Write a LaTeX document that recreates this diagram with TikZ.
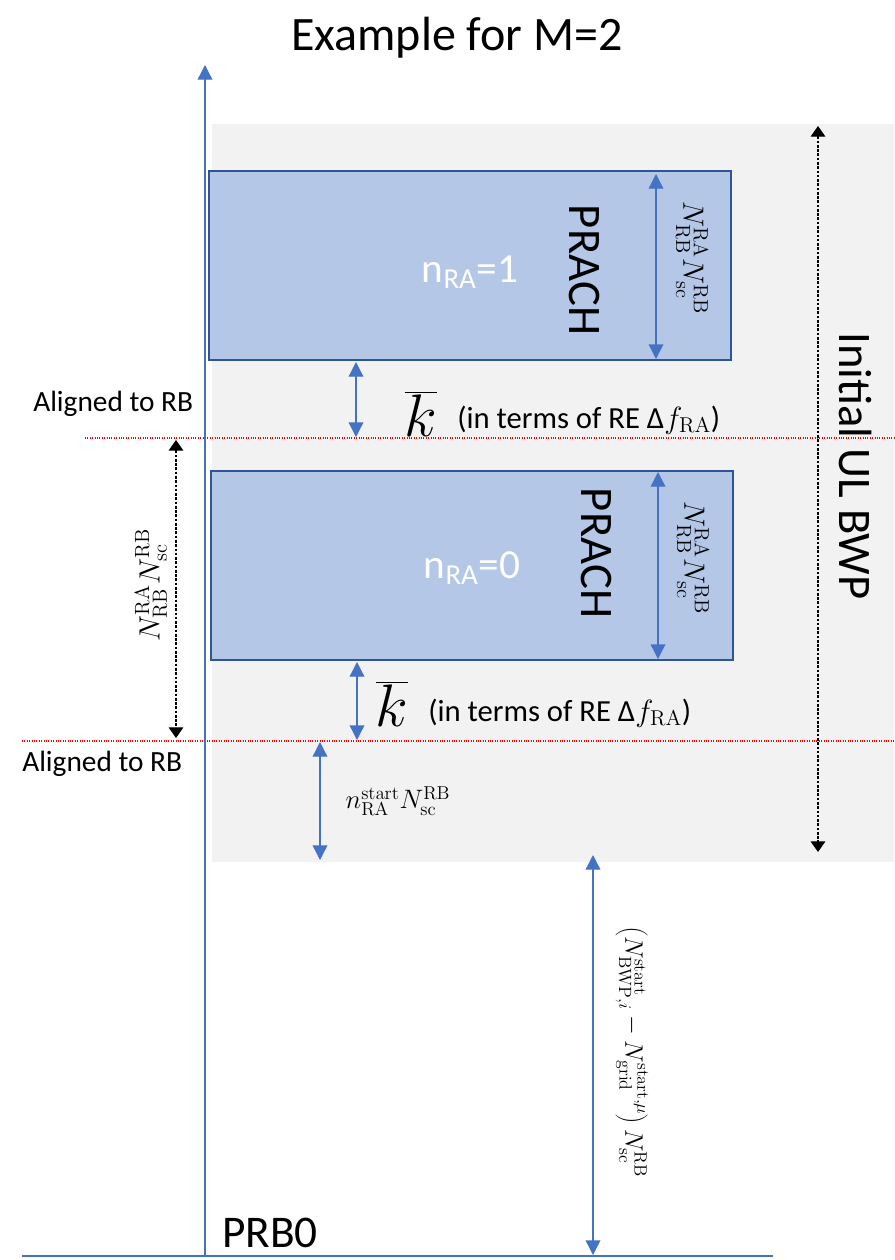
\RequirePackage{fix-cm}
\documentclass[tikz,border=0pt]{standalone}
\usepackage[no-math]{fontspec}
\setmainfont{Carlito}
\usetikzlibrary{arrows.meta}

\definecolor{axisblue}{HTML}{4472C4}
\definecolor{prachfill}{HTML}{B4C7E7}
\definecolor{prachedge}{HTML}{2F5597}
\definecolor{bwpgray}{HTML}{F2F2F2}

\begin{document}
\begin{tikzpicture}[
  x=0.75pt, y=-0.75pt,
  prach/.style={draw=prachedge, line width=2pt, fill=prachfill, inner sep=0pt,
                minimum width=391.5pt, minimum height=141.75pt},
  barr/.style={{Triangle[width=11pt,length=11pt]}-{Triangle[width=11pt,length=11pt]},
               axisblue, line width=1pt},
  darr/.style={{Triangle[width=11pt,length=8pt]}-{Triangle[width=11pt,length=8pt]},
               dash pattern=on 2pt off 1.2pt, line width=0.9pt},
  rbline/.style={red, densely dotted, line width=0.8pt},
  big/.style={font=\fontsize{35}{40}\selectfont},
  ra/.style={white, font=\fontsize{31}{36}\selectfont},
  note/.style={font=\fontsize{22}{26}\selectfont},
  math/.style={font=\fontsize{22}{26}\selectfont, inner sep=0pt},
  kbar/.style={font=\fontsize{45}{48}\selectfont, inner sep=0pt}
]
\useasboundingbox (0,0) rectangle (894,1260);

% initial UL BWP region
\fill[bwpgray] (212,124) rectangle (894,862);

% RB grid alignment lines
\draw[rbline] (85,438) -- (894,438);
\draw[rbline] (22,741) -- (894,741);

% frequency axis and PRB0 reference
\coordinate (ax0) at (205,1256);
\coordinate (ax1) at (205,65);
\coordinate (bl0) at (22,1256);
\coordinate (bl1) at (773,1256);
\draw[axisblue, line width=1pt] (bl0) -- (bl1);
\draw[axisblue, line width=1pt, -{Triangle[width=11pt,length=11pt]}] (ax0) -- (ax1);

\node[font=\fontsize{36}{40}\selectfont] (title) at (457,38) {Example for M=2};
\node[font=\fontsize{34}{38}\selectfont, anchor=base west, inner sep=0pt] (prb0) at (222,1247) {PRB0};

% PRACH occasions
\node[prach] (p1) at (470,265.5) {};
\node[prach] (p0) at (472,565.5) {};
\node[ra] (nra1) at (470,272) {n\textsubscript{RA}=1};
\node[ra] (nra0) at (472,568) {n\textsubscript{RA}=0};
\node[big, rotate=-90] (ph1) at (584,270) {PRACH};
\node[big, rotate=-90] (ph0) at (596,553) {PRACH};

% PRACH width
\coordinate (w1a) at (656,174);
\coordinate (w1b) at (656,359);
\coordinate (w0a) at (658,472);
\coordinate (w0b) at (658,659);
\draw[barr] (w1a) -- (w1b);
\draw[barr] (w0a) -- (w0b);
\node[math, rotate=-90] (lw1) at (692,258) {$N_{\mathrm{RB}}^{\mathrm{RA}}N_{\mathrm{sc}}^{\mathrm{RB}}$};
\node[math, rotate=-90] (lw0) at (693,558) {$N_{\mathrm{RB}}^{\mathrm{RA}}N_{\mathrm{sc}}^{\mathrm{RB}}$};

% frequency offsets k-bar
\coordinate (k1a) at (356,362);
\coordinate (k1b) at (356,437);
\coordinate (k0a) at (357,662);
\coordinate (k0b) at (357,740);
\draw[barr] (k1a) -- (k1b);
\draw[barr] (k0a) -- (k0b);
\node[kbar] (kb1) at (421,414) {$\overline{k}$};
\node[kbar] (kb0) at (392,704) {$\overline{k}$};
\node[note, anchor=base west, inner sep=0pt, font=\fontsize{23}{27}\selectfont] (ke1) at (457,428) {(in terms of RE Δ$f_{\mathrm{RA}}$)};
\node[note, anchor=base west, inner sep=0pt, font=\fontsize{23}{27}\selectfont] (ke0) at (428,721) {(in terms of RE Δ$f_{\mathrm{RA}}$)};

\node[note, anchor=base west, inner sep=0pt] (al1) at (33,411) {Aligned to RB};
\node[note, anchor=base west, inner sep=0pt] (al0) at (22,771) {Aligned to RB};

% spacing between occasions
\coordinate (s0) at (176,440);
\coordinate (s1) at (176,738);
\draw[darr] (s0) -- (s1);
\node[math, rotate=90] (ls) at (151,585) {$N_{\mathrm{RB}}^{\mathrm{RA}}N_{\mathrm{sc}}^{\mathrm{RB}}$};

% bandwidth part extent
\coordinate (bw0) at (818,126);
\coordinate (bw1) at (818,852);
\draw[darr] (bw0) -- (bw1);
\node[big, rotate=-90] (bwp) at (856,466) {Initial UL BWP};

% start offset inside the BWP
\coordinate (n0) at (320,742);
\coordinate (n1) at (320,860);
\draw[barr] (n0) -- (n1);
\node[math, font=\fontsize{20}{24}\selectfont] (ln) at (398,801) {$n_{\mathrm{RA}}^{\mathrm{start}}N_{\mathrm{sc}}^{\mathrm{RB}}$};

% BWP start relative to the grid
\coordinate (g0) at (593,855);
\coordinate (g1) at (593,1255);
\draw[barr] (g0) -- (g1);
\node[math, rotate=-90, font=\fontsize{19}{23}\selectfont] (lg) at (632,1052)
  {$\left(N_{\mathrm{BWP},i}^{\mathrm{start}}-N_{\mathrm{grid}}^{\mathrm{start},\mu}\right)N_{\mathrm{sc}}^{\mathrm{RB}}$};
\end{tikzpicture}
\end{document}
